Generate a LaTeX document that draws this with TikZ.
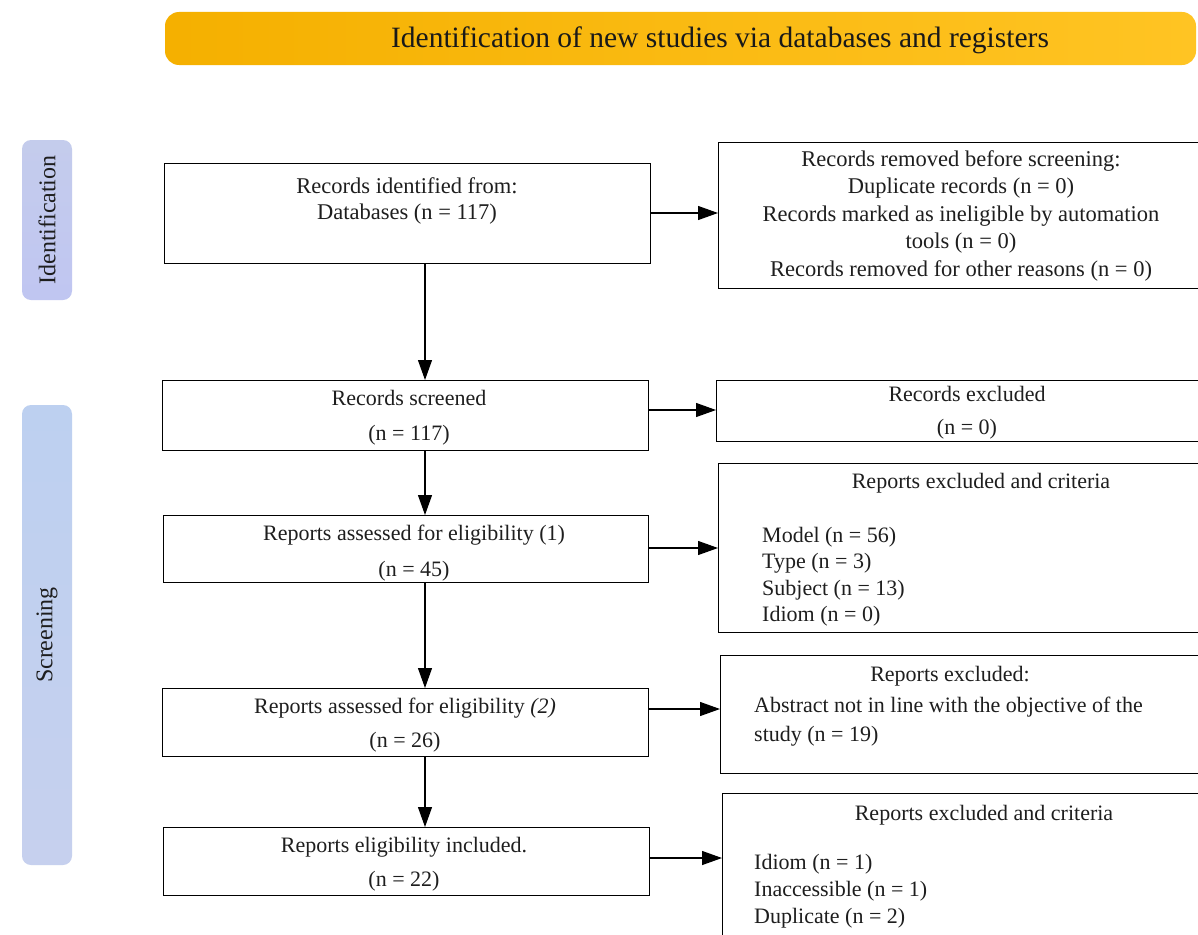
\documentclass[tikz,border=0pt]{standalone}
\usepackage{fontspec}
\setmainfont{Liberation Serif}
\usetikzlibrary{arrows.meta}
\definecolor{txt}{HTML}{1E1E1E}
\definecolor{bantop}{HTML}{F5B000}
\definecolor{banright}{HTML}{FFC423}
\definecolor{sideA}{HTML}{C4CCEC}
\definecolor{sideB}{HTML}{BDD0F0}
\definecolor{sideC}{HTML}{C6D0EE}
\tikzset{
  flowbox/.style={draw=black, line width=1.2pt, anchor=north west, inner sep=0pt},
  arr/.style={line width=1.2pt, -{Triangle[length=20pt,width=14pt]}},
  tx/.style={text=txt, inner sep=0pt, align=center, anchor=north},
  txl/.style={text=txt, inner sep=0pt, align=left, anchor=north west},
  sidebox/.style={rounded corners=9pt, inner sep=0pt, text=txt, rotate=90,
    font=\fontsize{24}{28}\selectfont},
}
\begin{document}
\begin{tikzpicture}[x=1pt,y=-1pt]
\useasboundingbox (0,0) rectangle (1198,934);
\clip (0,0) rectangle (1198,934);
\fill[white] (0,0) rectangle (1198,934);

% banner
\node[rounded corners=14pt, left color=bantop, right color=banright, minimum width=1031pt, minimum height=53pt, inner sep=0pt] (ban) at (680.5,38.5) {};
\node[text=txt!85!black, inner sep=0pt, font=\fontsize{29.5}{34}\selectfont] (bant) at (720,40) {Identification of new studies via databases and registers};

% side labels
\node[sidebox, top color=sideA, bottom color=sideA!90!blue!80!white, minimum width=160pt, minimum height=50pt] (sid) at (47,220) {Identification};
\node[sidebox, top color=sideB, bottom color=sideC, minimum width=460pt, minimum height=50pt] (ssc) at (47,635) {Screening};

% left boxes
\node[flowbox, minimum width=486pt, minimum height=100pt] (b1) at (164,163) {};
\node[flowbox, minimum width=486pt, minimum height=70pt] (b2) at (162,380) {};
\node[flowbox, minimum width=485pt, minimum height=67pt] (b3) at (163,515) {};
\node[flowbox, minimum width=486pt, minimum height=68pt] (b4) at (162,688) {};
\node[flowbox, minimum width=486pt, minimum height=68pt] (b5) at (163,827) {};

% right boxes
\node[flowbox, minimum width=520pt, minimum height=146pt] (r1) at (718,142) {};
\node[flowbox, minimum width=520pt, minimum height=61pt] (r2) at (716,380) {};
\node[flowbox, minimum width=520pt, minimum height=169pt] (r3) at (718,463) {};
\node[flowbox, minimum width=520pt, minimum height=118pt] (r4) at (720,655) {};
\node[flowbox, minimum width=520pt, minimum height=200pt] (r5) at (722,793) {};

% texts in left boxes
\node[tx, font=\fontsize{22.5}{26}\selectfont] (t1) at (407,177) {Records identified from:\\Databases (n = 117)};
\node[tx, font=\fontsize{22}{35}\selectfont] (t2) at (409,390) {Records screened\\(n = 117)};
\node[tx, font=\fontsize{22}{36}\selectfont] (t3) at (414,525) {Reports assessed for eligibility (1)\\(n = 45)};
\node[tx, font=\fontsize{22}{34}\selectfont] (t4) at (405,698) {Reports assessed for eligibility \textit{(2)}\\(n = 26)};
\node[tx, font=\fontsize{22}{34}\selectfont] (t5) at (404,837) {Reports eligibility included.\\(n = 22)};

% texts in right boxes
\node[tx, font=\fontsize{22.5}{27.5}\selectfont] (rt1) at (961,150) {Records removed before screening:\\Duplicate records (n = 0)\\Records marked as ineligible by automation\\tools (n = 0)\\Records removed for other reasons (n = 0)};
\node[tx, font=\fontsize{22}{33}\selectfont] (rt2) at (967,386) {Records excluded\\(n = 0)};
\node[tx, font=\fontsize{22}{26}\selectfont] (rt3h) at (981,473) {Reports excluded and criteria};
\node[txl, font=\fontsize{22}{26.3}\selectfont] (rt3) at (762,527) {Model (n = 56)\\Type (n = 3)\\Subject (n = 13)\\Idiom (n = 0)};
\node[tx, font=\fontsize{22}{26}\selectfont] (rt4h) at (950,666) {Reports excluded:};
\node[txl, font=\fontsize{22}{29}\selectfont] (rt4) at (754,697) {Abstract not in line with the objective of the\\study (n = 19)};
\node[tx, font=\fontsize{22}{26}\selectfont] (rt5h) at (984,805) {Reports excluded and criteria};
\node[txl, font=\fontsize{22}{27}\selectfont] (rt5) at (754,854) {Idiom (n = 1)\\Inaccessible (n = 1)\\Duplicate (n = 2)};

% connectors
\coordinate (vx) at (425,0);
\coordinate (h1) at (0,213);
\coordinate (h2) at (0,410);
\coordinate (h3) at (0,548);
\coordinate (h4) at (0,709);
\coordinate (h5) at (0,858);
\draw[arr] (b1.south -| vx) -- (b2.north -| vx);
\draw[arr] (b2.south -| vx) -- (b3.north -| vx);
\draw[arr] (b3.south -| vx) -- (b4.north -| vx);
\draw[arr] (b4.south -| vx) -- (b5.north -| vx);
\draw[arr] (b1.east |- h1) -- (r1.west |- h1);
\draw[arr] (b2.east |- h2) -- (r2.west |- h2);
\draw[arr] (b3.east |- h3) -- (r3.west |- h3);
\draw[arr] (b4.east |- h4) -- (r4.west |- h4);
\draw[arr] (b5.east |- h5) -- (r5.west |- h5);
\end{tikzpicture}
\end{document}
